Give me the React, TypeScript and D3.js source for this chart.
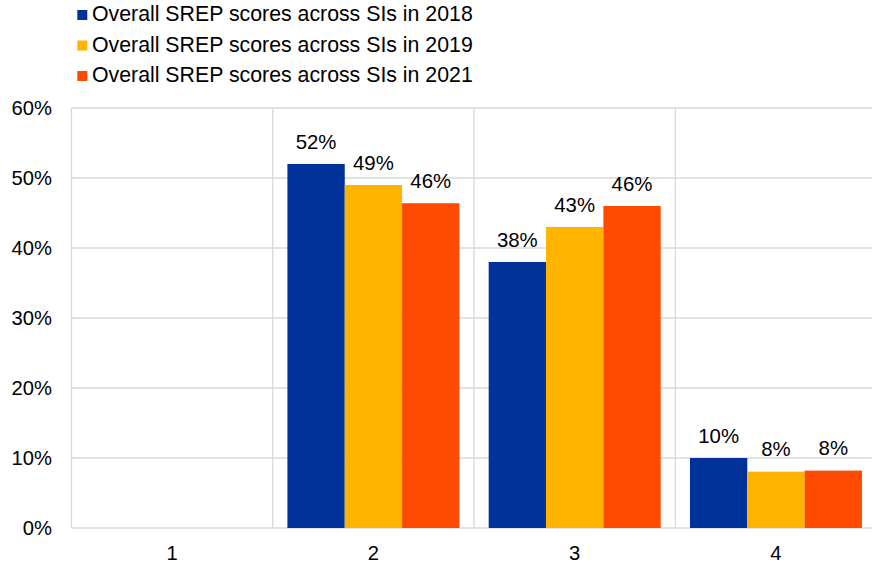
import React from "react";
import * as d3 from "d3";

const categories = ["1", "2", "3", "4"];
const seriesNames = [
  "Overall SREP scores across SIs in 2018",
  "Overall SREP scores across SIs in 2019",
  "Overall SREP scores across SIs in 2021",
];
const values2018: (number | null)[] = [null, 52, 38, 10];
const values2019: (number | null)[] = [null, 49, 43, 8.05];
const values2021: (number | null)[] = [null, 46.4, 46, 8.2];
const labels2018 = ["", "52%", "38%", "10%"];
const labels2019 = ["", "49%", "43%", "8%"];
const labels2021 = ["", "46%", "46%", "8%"];
const yTicks = [0, 10, 20, 30, 40, 50, 60];
const colors = ["#003299", "#FFB400", "#FF4B00"];

const W = 872;
const H = 563;
const font = "Arial, 'Liberation Sans', Helvetica, sans-serif";

export default function App() {
  const left = 71.5;
  const right = 876.6;
  const top = 108;
  const bottom = 528;
  const x0 = d3.scaleBand<string>().domain(categories).range([left, right]).padding(0);
  const bw = x0.bandwidth();
  const pad = (bw - 172) / 2;
  const x1 = d3.scaleBand<string>().domain(seriesNames).range([pad, bw - pad]).padding(0);
  const y = d3.scaleLinear().domain([0, 60]).range([bottom, top]);
  const seriesVals = [values2018, values2019, values2021];
  const seriesLabels = [labels2018, labels2019, labels2021];

  return (
    <svg width={W} height={H} style={{ display: "block", position: "absolute", left: 0, top: 0 }} fontFamily={font}>
      <rect width={W} height={H} fill="#fff" />
      {/* legend */}
      {seriesNames.map((s, i) => (
        <g key={s}>
          <rect x={77.3} y={10 + i * 30.5} width={10} height={10} fill={colors[i]} />
          <text x={92} y={21 + i * 30.5} fontSize={21.3} fill="#000">{s}</text>
        </g>
      ))}
      {/* horizontal gridlines */}
      {yTicks.map((t) => (
        <line key={t} x1={left} x2={right} y1={y(t)} y2={y(t)} stroke="#d9d9d9" strokeWidth={1.3} />
      ))}
      {/* vertical separators */}
      {categories.map((c) => (
        <line key={c} x1={x0(c)!} x2={x0(c)!} y1={top} y2={bottom} stroke="#d9d9d9" strokeWidth={1.3} />
      ))}
      {/* y labels */}
      {yTicks.map((t) => (
        <text key={t} x={52} y={y(t)} dy="0.35em" textAnchor="end" fontSize={20.2} fill="#000">{`${t}%`}</text>
      ))}
      {/* bars */}
      {seriesNames.map((s, si) =>
        categories.map((c, ci) => {
          const v = seriesVals[si][ci];
          if (v == null) return null;
          const bx = x0(c)! + x1(s)!;
          return (
            <g key={s + c}>
              <rect x={bx} y={y(v)} width={x1.bandwidth()} height={bottom - y(v)} fill={colors[si]} />
              <text x={bx + x1.bandwidth() / 2} y={y(v) - 15.5} textAnchor="middle" fontSize={20.4} fill="#000">
                {seriesLabels[si][ci]}
              </text>
            </g>
          );
        })
      )}
      {/* x labels */}
      {categories.map((c) => (
        <text key={c} x={x0(c)! + bw / 2} y={559.5} textAnchor="middle" fontSize={20.2} fill="#000">{c}</text>
      ))}
    </svg>
  );
}
